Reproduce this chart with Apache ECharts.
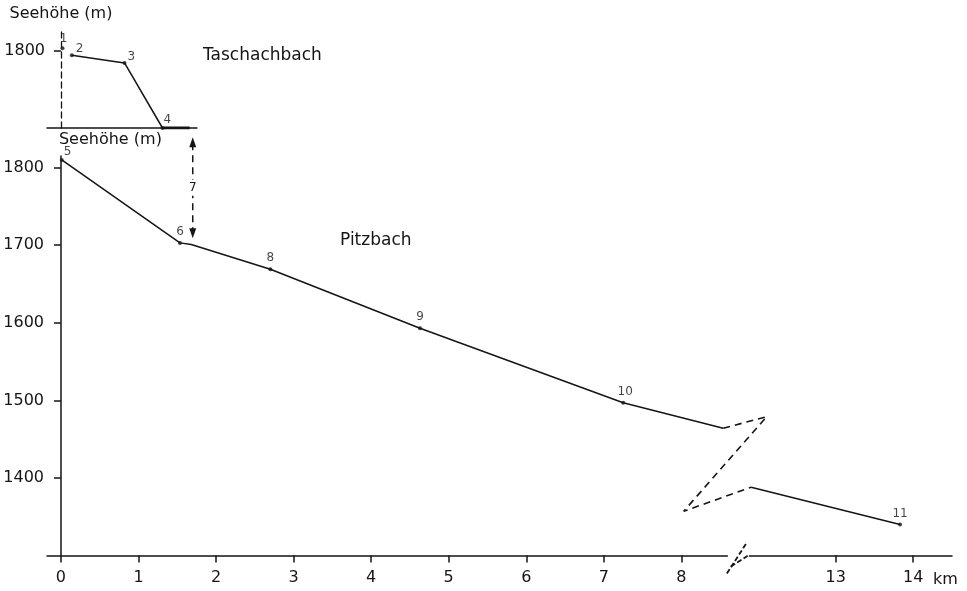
<!DOCTYPE html>
<html><head><meta charset="utf-8">
<script src="https://cdn.jsdelivr.net/npm/echarts@6/dist/echarts.min.js"></script>
<style>html,body{margin:0;padding:0;background:#fff}#c{width:967px;height:591px}</style>
</head><body><div id="c"></div>
<script>
// ---------- data ----------
// Taschachbach (upper small panel)
const taschLineKm   = [0.14, 0.82, 1.31];
const taschLineElev = [1794, 1784, 1700];
const taschFlatKm   = [1.31, 1.66];
const taschFlatElev = [1700, 1700];
const taschPtNames  = ['1', '2', '3', '4'];
const taschPtKm     = [0.02, 0.14, 0.82, 1.31];
const taschPtElev   = [1803, 1794, 1784, 1700];

// Pitzbach (main panel)
const pitzUpperKm   = [0.01, 1.535, 1.68, 2.70, 4.63, 7.25, 8.54];
const pitzUpperElev = [1810, 1703, 1701, 1669, 1593, 1497, 1464];
const pitzLowerKm   = [11.91, 13.83];
const pitzLowerElev = [1388, 1340];
const pitzPtNames   = ['5', '6', '8', '9', '10', '11'];
const pitzPtKm      = [0.01, 1.535, 2.70, 4.63, 7.25, 13.83];
const pitzPtElev    = [1810, 1703, 1669, 1593, 1497, 1340];
const zigKm         = [8.54, 12.11, 8.03, 11.91];
const zigElev       = [1464, 1479, 1357, 1388];

// confluence arrow "7"
const arrowKm = 1.70;
const arrowTopElev = 1688;    // Taschachbach scale
const arrowBottomElev = 1709; // Pitzbach scale

// axes
const xTicks = [0, 1, 2, 3, 4, 5, 6, 7, 8, 13, 14];
const yTicksMain = [1400, 1500, 1600, 1700, 1800];
const yTicksTop = [1800];
const xBreakStart = 8.6, xBreakEnd = 11.88, xBreakGap = 0.27;

// ---------- styles ----------
const FONT = 'DejaVu Sans';
const INK = '#151515';
const zip = (a, b) => a.map((v, i) => [v, b[i]]);

const taschLabelPos = {
  '1': {position: 'top', offset: [1, 2]},
  '2': {position: 'right', offset: [-1, -6]},
  '3': {position: 'right', offset: [-2, -6]},
  '4': {position: 'right', offset: [-4, -8]}
};
const pitzLabelPos = {
  '5': {position: 'right', offset: [-3, -8]},
  '6': {position: 'top', offset: [0, 0]},
  '8': {position: 'top', offset: [0, 0]},
  '9': {position: 'top', offset: [0, 0]},
  '10': {position: 'top', offset: [2, 0]},
  '11': {position: 'top', offset: [0, 0]}
};

function pts(names, km, elev, posMap) {
  return names.map((n, i) => ({
    name: n, value: [km[i], elev[i]],
    label: Object.assign({show: true, formatter: n, color: INK, fontFamily: FONT, fontSize: 12, distance: 3}, posMap[n])
  }));
}

const axisLineStyle = {color: INK, width: 1.5};
const labelStyle = {color: INK, fontFamily: FONT, fontSize: 16};
const plain = v => String(v);

const chart = echarts.init(document.getElementById('c'), null, {renderer: 'canvas'});

const option = {
  backgroundColor: '#fff',
  animation: false,
  grid: [
    {left: 47, top: 32, width: 150, height: 96, containLabel: false, outerBoundsMode: 'none'},
    {left: 47, top: 156, width: 905, height: 399.5, containLabel: false, outerBoundsMode: 'none'}
  ],
  xAxis: [
    {
      gridIndex: 0, type: 'value', min: -0.18, max: 1.755,
      axisLine: {lineStyle: axisLineStyle},
      axisTick: {show: false}, axisLabel: {show: false}, splitLine: {show: false}
    },
    {
      gridIndex: 1, type: 'value', min: -0.18, max: 14.5,
      breaks: [{start: xBreakStart, end: xBreakEnd, gap: xBreakGap}],
      breakArea: {
        show: true,
        itemStyle: {color: 'rgba(255,255,255,0)', borderColor: 'rgba(255,255,255,0)', borderWidth: 0, opacity: 0}
      },
      axisLine: {lineStyle: axisLineStyle},
      axisTick: {show: true, length: 7, customValues: xTicks, lineStyle: axisLineStyle},
      axisLabel: Object.assign({margin: 14, customValues: xTicks, formatter: plain}, labelStyle),
      splitLine: {show: false},
      name: 'km', nameLocation: 'end', nameGap: -19,
      nameTextStyle: Object.assign({align: 'left', verticalAlign: 'top', padding: [16, 0, 0, 0]}, labelStyle)
    }
  ],
  yAxis: [
    {
      gridIndex: 0, type: 'value', min: 1700, max: 1824,
      axisLine: {onZero: true, lineStyle: {color: INK, width: 1.3, type: [6, 4]}},
      axisTick: {show: true, length: 7, customValues: yTicksTop, lineStyle: axisLineStyle},
      axisLabel: Object.assign({margin: 2, customValues: yTicksTop, formatter: plain}, labelStyle),
      splitLine: {show: false},
      name: 'Seehöhe (m)', nameLocation: 'end', nameGap: 10,
      nameTextStyle: Object.assign({align: 'center'}, labelStyle)
    },
    {
      gridIndex: 1, type: 'value', min: 1300, max: 1815, interval: 100,
      axisLine: {onZero: true, lineStyle: axisLineStyle},
      axisTick: {show: true, length: 7, customValues: yTicksMain, lineStyle: axisLineStyle},
      axisLabel: Object.assign({margin: 3, customValues: yTicksMain, formatter: plain}, labelStyle),
      splitLine: {show: false},
      name: 'Seehöhe (m)', nameLocation: 'end', nameGap: 8,
      nameTextStyle: Object.assign({align: 'left', padding: [0, 0, 0, -2]}, labelStyle)
    }
  ],
  series: [
    {type: 'line', xAxisIndex: 0, yAxisIndex: 0, data: zip(taschLineKm, taschLineElev),
      symbol: 'none', lineStyle: {color: INK, width: 1.5}, z: 3},
    {type: 'line', xAxisIndex: 0, yAxisIndex: 0, data: zip(taschFlatKm, taschFlatElev),
      symbol: 'none', lineStyle: {color: INK, width: 3}, z: 3},
    {type: 'scatter', xAxisIndex: 0, yAxisIndex: 0, data: pts(taschPtNames, taschPtKm, taschPtElev, taschLabelPos),
      symbolSize: 4, itemStyle: {color: INK}, z: 4},
    {type: 'line', xAxisIndex: 1, yAxisIndex: 1, data: zip(pitzUpperKm, pitzUpperElev),
      symbol: 'none', lineStyle: {color: INK, width: 1.5}, z: 3},
    {type: 'line', xAxisIndex: 1, yAxisIndex: 1, data: zip(pitzLowerKm, pitzLowerElev),
      symbol: 'none', lineStyle: {color: INK, width: 1.5}, z: 3},
    {type: 'line', xAxisIndex: 1, yAxisIndex: 1, data: zip(zigKm, zigElev),
      symbol: 'none', lineStyle: {color: INK, width: 1.6, type: [7, 5]}, z: 3},
    {type: 'scatter', xAxisIndex: 1, yAxisIndex: 1, data: pts(pitzPtNames, pitzPtKm, pitzPtElev, pitzLabelPos),
      symbolSize: 4, itemStyle: {color: INK}, z: 4}
  ]
};
chart.setOption(option);

// ---------- annotations placed through the axes' own scales ----------
const pTop = chart.convertToPixel({xAxisIndex: 0, yAxisIndex: 0}, [arrowKm, arrowTopElev]);
const pBot = chart.convertToPixel({xAxisIndex: 1, yAxisIndex: 1}, [arrowKm, arrowBottomElev]);
const pBrk = chart.convertToPixel({xAxisIndex: 1, yAxisIndex: 1}, [xBreakStart, 1300]);
const ax = pTop[0];
const dash = {stroke: INK, lineWidth: 1.5, lineDash: [7, 5]};
const brkDash = {stroke: INK, lineWidth: 1.8, lineDash: [5, 2.5]};
chart.setOption({
  graphic: [
    {type: 'line', shape: {x1: ax, y1: pTop[1] + 6, x2: ax, y2: pBot[1] - 6}, style: dash, z: 10},
    {type: 'polygon', shape: {points: [[ax - 3.5, pTop[1] + 10], [ax, pTop[1]], [ax + 3.5, pTop[1] + 10]]}, style: {fill: INK}, z: 10},
    {type: 'polygon', shape: {points: [[ax - 3.5, pBot[1] - 10], [ax, pBot[1]], [ax + 3.5, pBot[1] - 10]]}, style: {fill: INK}, z: 10},
    {type: 'text', x: ax, y: (pTop[1] + pBot[1]) / 2, style: {text: '7', fill: INK, font: '12px ' + FONT, align: 'center', verticalAlign: 'middle', backgroundColor: '#fff', padding: [2, 1]}, z: 11},
    // axis break marks
    {type: 'rect', shape: {x: pBrk[0], y: pBrk[1] - 3, width: 21, height: 6}, style: {fill: '#fff'}, z: 20},
    {type: 'line', shape: {x1: pBrk[0] - 1, y1: pBrk[1] + 18, x2: pBrk[0] + 19, y2: pBrk[1] - 13}, style: brkDash, z: 21},
    {type: 'line', shape: {x1: pBrk[0] + 3, y1: pBrk[1] + 11, x2: pBrk[0] + 22, y2: pBrk[1] - 1}, style: brkDash, z: 21},
    // stream names
    {type: 'text', left: 203, top: 47, style: {text: 'Taschachbach', fill: INK, font: '17px ' + FONT}},
    {type: 'text', left: 340, top: 232, style: {text: 'Pitzbach', fill: INK, font: '17px ' + FONT}}
  ]
});
</script>
</body></html>
